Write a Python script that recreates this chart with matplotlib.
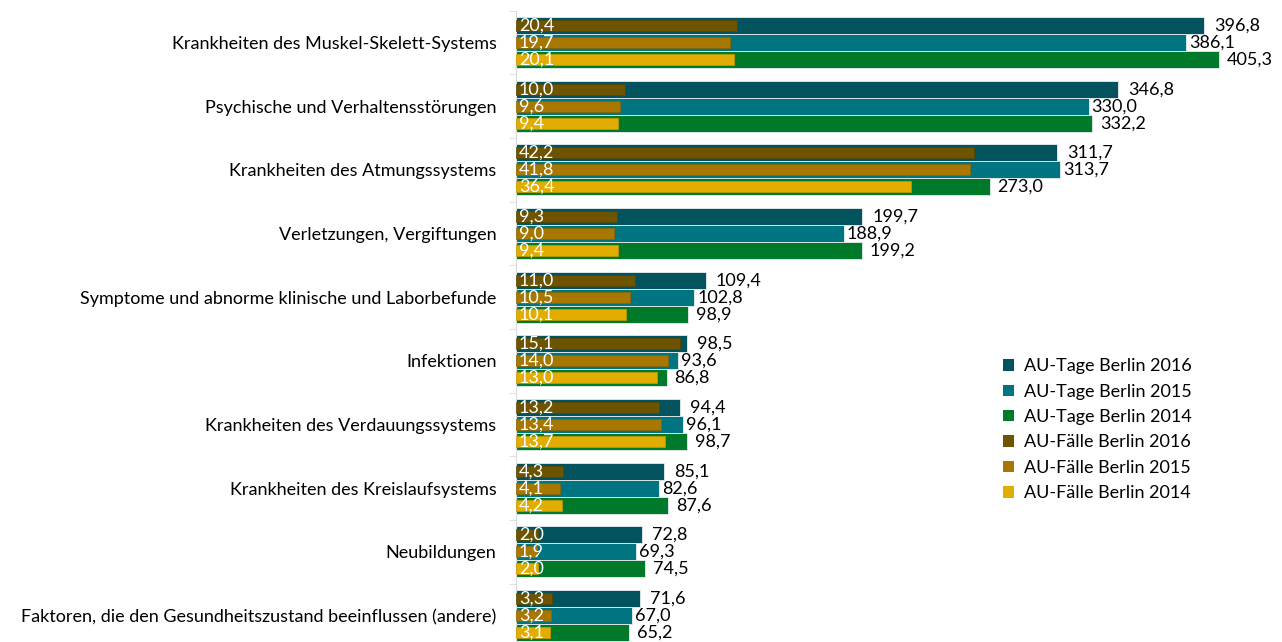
import matplotlib.pyplot as plt
import numpy as np

# Daten
kategorien = [
    "Krankheiten des Muskel-Skelett-Systems",
    "Psychische und Verhaltensstörungen",
    "Krankheiten des Atmungssystems",
    "Verletzungen, Vergiftungen",
    "Symptome und abnorme klinische und Laborbefunde",
    "Infektionen",
    "Krankheiten des Verdauungssystems",
    "Krankheiten des Kreislaufsystems",
    "Neubildungen",
    "Faktoren, die den Gesundheitszustand beeinflussen (andere)",
]
tage_2016 = [396.8, 346.8, 311.7, 199.7, 109.4, 98.5, 94.4, 85.1, 72.8, 71.6]
tage_2015 = [386.1, 330.0, 313.7, 188.9, 102.8, 93.6, 96.1, 82.6, 69.3, 67.0]
tage_2014 = [405.3, 332.2, 273.0, 199.2, 98.9, 86.8, 98.7, 87.6, 74.5, 65.2]
faelle_2016 = [20.4, 10.0, 42.2, 9.3, 11.0, 15.1, 13.2, 4.3, 2.0, 3.3]
faelle_2015 = [19.7, 9.6, 41.8, 9.0, 10.5, 14.0, 13.4, 4.1, 1.9, 3.2]
faelle_2014 = [20.1, 9.4, 36.4, 9.4, 10.1, 13.0, 13.7, 4.2, 2.0, 3.1]

plt.rcParams['font.family'] = ['Lato', 'DejaVu Sans']

farben_tage = ['#02535E', '#007480', '#007A2A']
farben_faelle = ['#6E5400', '#A87700', '#E2AC00']
kanten_faelle = ['#5a4500', '#8f6500', '#c99a00']
jahre = ['2016', '2015', '2014']


def fmt(v):
    return f"{v:.1f}".replace('.', ',')


fig = plt.figure(figsize=(12.82, 6.42), dpi=100)
ax = fig.add_axes([516 / 1282, -0.0083, 734 / 1282, 636.7 / 642])
ax2 = ax.twiny()

y = np.arange(len(kategorien))
h_tage = 0.267
h_faelle = 0.173
offsets = [-h_tage, 0, h_tage]
label_pad = [10, 3, 8]

for i, werte in enumerate([tage_2016, tage_2015, tage_2014]):
    bars = ax.barh(y + offsets[i], werte, height=h_tage, color=farben_tage[i],
                   edgecolor='#e8eeee', linewidth=0.6,
                   label=f"AU-Tage Berlin {jahre[i]}")
    for b, v in zip(bars, werte):
        ax.annotate(fmt(v), (b.get_width(), b.get_y() + b.get_height() / 2),
                    xytext=(label_pad[i], 0), textcoords='offset pixels',
                    ha='left', va='center', fontsize=13, color='black')

for i, werte in enumerate([faelle_2016, faelle_2015, faelle_2014]):
    bars = ax2.barh(y + offsets[i], werte, height=h_faelle, color=farben_faelle[i],
                    edgecolor=kanten_faelle[i], linewidth=0.5,
                    label=f"AU-Fälle Berlin {jahre[i]}")
    for b, v in zip(bars, werte):
        ax2.annotate(fmt(v), (0, b.get_y() + b.get_height() / 2),
                     xytext=(3, 0), textcoords='offset pixels',
                     ha='left', va='center', fontsize=13, color='white')

ax.set_xlim(0, 734 / 1.735)
ax2.set_xlim(0, 734 / 10.85)
ax.set_ylim(len(kategorien) - 0.5, -0.5)

ax.set_yticks(y)
ax.set_yticklabels(kategorien, fontsize=13)
ax.set_yticks(np.arange(-0.5, len(kategorien)), minor=True)
ax.tick_params(axis='y', which='major', length=0, pad=14)
ax.tick_params(axis='y', which='minor', length=5, color='#d9d9d9')
ax.set_xticks([])
ax2.set_xticks([])

for a in (ax, ax2):
    for s in ['top', 'right', 'bottom', 'left']:
        a.spines[s].set_visible(False)
ax.spines['left'].set_visible(True)
ax.spines['left'].set_color('#d9d9d9')

h1, l1 = ax.get_legend_handles_labels()
h2, l2 = ax2.get_legend_handles_labels()
leg = fig.legend(h1 + h2, l1 + l2, loc='upper left',
                 bbox_to_anchor=(987 / 1282, 1 - 342 / 642), frameon=False,
                 fontsize=13, handlelength=0.6, handleheight=0.6,
                 handletextpad=0.55, labelspacing=0.52)
for p in leg.get_patches():
    p.set_edgecolor('none')

fig.savefig('out.png', dpi=100)
